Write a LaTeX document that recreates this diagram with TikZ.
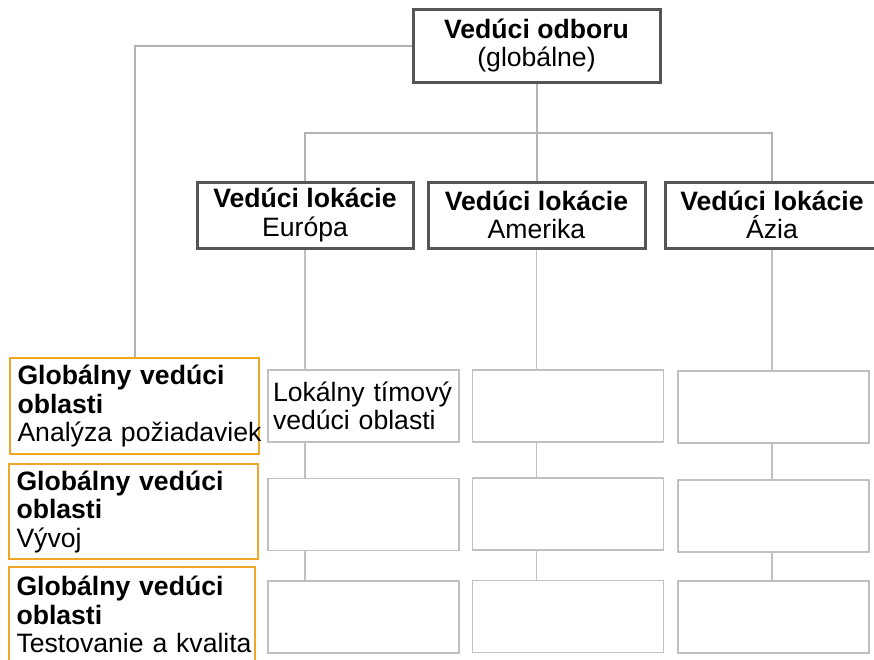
\documentclass[tikz,border=0pt]{standalone}
\usepackage{fontspec}
\setmainfont{Liberation Sans}
\usetikzlibrary{backgrounds}
\definecolor{headline}{RGB}{85,85,85}
\definecolor{linkgray}{RGB}{178,178,178}
\definecolor{cellgray}{RGB}{192,192,192}
\definecolor{areaorange}{RGB}{242,166,40}
\tikzset{
  every node/.style={font=\fontsize{26.6}{28.5}\selectfont, inner sep=0pt},
  headbox/.style={draw=headline, line width=3pt, fill=white, align=center},
  cellbox/.style={draw=cellgray, line width=1.5pt, fill=white,
    minimum width=191pt, minimum height=72pt},
  areabox/.style={draw=areaorange, line width=1.5pt, fill=white,
    text width=234pt, inner xsep=7.5pt, align=left, minimum width=249pt},
  trunk/.style={draw=linkgray, line width=2pt},
  branch/.style={draw=cellgray, line width=1.4pt}
}
\begin{document}
\begin{tikzpicture}[x=1pt,y=-1pt]
\useasboundingbox (0,0) rectangle (874,659);

% head of department
\node[headbox, minimum width=247pt, minimum height=73pt] (top) at (536.5,45.5)
  {\textbf{Vedúci odboru}\\(globálne)};

% site leads
\node[headbox, minimum width=216pt, minimum height=66pt] (eu) at (305,215)
  {\textbf{Vedúci lokácie}\\Európa};
\node[headbox, minimum width=217pt, minimum height=66pt] (am) at (536.5,215)
  {\textbf{Vedúci lokácie}\\Amerika};
\node[headbox, minimum width=214pt, minimum height=66pt] (az) at (772,215)
  {\textbf{Vedúci lokácie}\\Ázia};

% local team cells
\node[cellbox, text width=181pt, inner xsep=5pt, align=left] (e1) at (363.5,406)
  {Lokálny tímový\\vedúci oblasti};
\node[cellbox] (e2) at (363.5,514.5) {};
\node[cellbox] (e3) at (363.5,617) {};
\node[cellbox] (a1) at (568,406) {};
\node[cellbox] (a2) at (568,514) {};
\node[cellbox] (a3) at (568,616.5) {};
\node[cellbox] (z1) at (773.5,407) {};
\node[cellbox] (z2) at (773.5,516) {};
\node[cellbox] (z3) at (773.5,617) {};

% global area leads
\node[areabox, minimum height=96pt] (g1) at (134.5,406)
  {\textbf{Globálny vedúci}\\\textbf{oblasti}\\\mbox{Analýza požiadaviek}};
\node[areabox, minimum height=95pt] (g2) at (133.5,511.5)
  {\textbf{Globálny vedúci}\\\textbf{oblasti}\\Vývoj};
\node[areabox, minimum height=95pt, minimum width=246pt, text width=231pt] (g3) at (132,614.5)
  {\textbf{Globálny vedúci}\\\textbf{oblasti}\\\mbox{Testovanie a kvalita}};

\coordinate (bus) at (536.5,133);

\begin{scope}[on background layer]
  \draw[trunk] (top.south) -- (bus);
  \draw[trunk] (eu.north) |- (bus) -| (az.north);
  \draw[trunk] (bus) -- (am.north);
  \draw[trunk] (top.west) -| (g1.north);
  \draw[branch] (eu.south) -- (eu.south |- e3.north);
  \draw[branch] (am.south) -- (am.south |- a3.north);
  \draw[branch] (az.south) -- (az.south |- z3.north);
\end{scope}
\end{tikzpicture}
\end{document}
